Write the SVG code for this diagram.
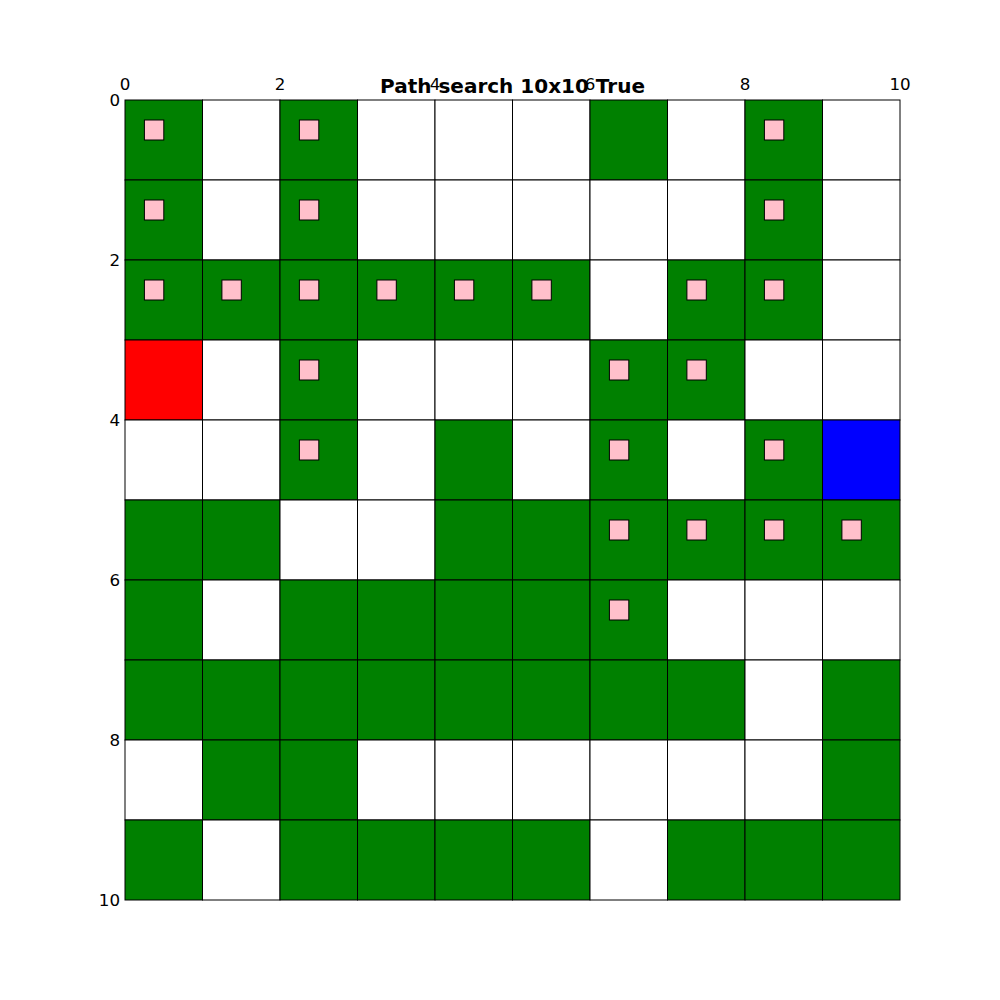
<svg xmlns="http://www.w3.org/2000/svg" width="1000" height="1000" viewBox="0 0 1000 1000">
<style>
.c{stroke:#000;stroke-width:1}
.g{fill:#008000}
.w{fill:#fff}
.r{fill:#f00}
.b{fill:#00f}
.p{fill:#ffc0cb;stroke:#000;stroke-width:1}
.t{font-family:"DejaVu Sans",sans-serif;font-size:16.7px;fill:#000}
.ti{font-family:"DejaVu Sans",sans-serif;font-size:20px;font-weight:bold;fill:#000}
</style>
<rect width="1000" height="1000" fill="#fff"/>
<g id="grid">
<g id="row0">
<rect class="c g" x="125" y="100" width="77.5" height="80"/>
<rect class="c w" x="202.5" y="100" width="77.5" height="80"/>
<rect class="c g" x="280" y="100" width="77.5" height="80"/>
<rect class="c w" x="357.5" y="100" width="77.5" height="80"/>
<rect class="c w" x="435" y="100" width="77.5" height="80"/>
<rect class="c w" x="512.5" y="100" width="77.5" height="80"/>
<rect class="c g" x="590" y="100" width="77.5" height="80"/>
<rect class="c w" x="667.5" y="100" width="77.5" height="80"/>
<rect class="c g" x="745" y="100" width="77.5" height="80"/>
<rect class="c w" x="822.5" y="100" width="77.5" height="80"/>
</g>
<g id="row1">
<rect class="c g" x="125" y="180" width="77.5" height="80"/>
<rect class="c w" x="202.5" y="180" width="77.5" height="80"/>
<rect class="c g" x="280" y="180" width="77.5" height="80"/>
<rect class="c w" x="357.5" y="180" width="77.5" height="80"/>
<rect class="c w" x="435" y="180" width="77.5" height="80"/>
<rect class="c w" x="512.5" y="180" width="77.5" height="80"/>
<rect class="c w" x="590" y="180" width="77.5" height="80"/>
<rect class="c w" x="667.5" y="180" width="77.5" height="80"/>
<rect class="c g" x="745" y="180" width="77.5" height="80"/>
<rect class="c w" x="822.5" y="180" width="77.5" height="80"/>
</g>
<g id="row2">
<rect class="c g" x="125" y="260" width="77.5" height="80"/>
<rect class="c g" x="202.5" y="260" width="77.5" height="80"/>
<rect class="c g" x="280" y="260" width="77.5" height="80"/>
<rect class="c g" x="357.5" y="260" width="77.5" height="80"/>
<rect class="c g" x="435" y="260" width="77.5" height="80"/>
<rect class="c g" x="512.5" y="260" width="77.5" height="80"/>
<rect class="c w" x="590" y="260" width="77.5" height="80"/>
<rect class="c g" x="667.5" y="260" width="77.5" height="80"/>
<rect class="c g" x="745" y="260" width="77.5" height="80"/>
<rect class="c w" x="822.5" y="260" width="77.5" height="80"/>
</g>
<g id="row3">
<rect class="c r" x="125" y="340" width="77.5" height="80"/>
<rect class="c w" x="202.5" y="340" width="77.5" height="80"/>
<rect class="c g" x="280" y="340" width="77.5" height="80"/>
<rect class="c w" x="357.5" y="340" width="77.5" height="80"/>
<rect class="c w" x="435" y="340" width="77.5" height="80"/>
<rect class="c w" x="512.5" y="340" width="77.5" height="80"/>
<rect class="c g" x="590" y="340" width="77.5" height="80"/>
<rect class="c g" x="667.5" y="340" width="77.5" height="80"/>
<rect class="c w" x="745" y="340" width="77.5" height="80"/>
<rect class="c w" x="822.5" y="340" width="77.5" height="80"/>
</g>
<g id="row4">
<rect class="c w" x="125" y="420" width="77.5" height="80"/>
<rect class="c w" x="202.5" y="420" width="77.5" height="80"/>
<rect class="c g" x="280" y="420" width="77.5" height="80"/>
<rect class="c w" x="357.5" y="420" width="77.5" height="80"/>
<rect class="c g" x="435" y="420" width="77.5" height="80"/>
<rect class="c w" x="512.5" y="420" width="77.5" height="80"/>
<rect class="c g" x="590" y="420" width="77.5" height="80"/>
<rect class="c w" x="667.5" y="420" width="77.5" height="80"/>
<rect class="c g" x="745" y="420" width="77.5" height="80"/>
<rect class="c b" x="822.5" y="420" width="77.5" height="80"/>
</g>
<g id="row5">
<rect class="c g" x="125" y="500" width="77.5" height="80"/>
<rect class="c g" x="202.5" y="500" width="77.5" height="80"/>
<rect class="c w" x="280" y="500" width="77.5" height="80"/>
<rect class="c w" x="357.5" y="500" width="77.5" height="80"/>
<rect class="c g" x="435" y="500" width="77.5" height="80"/>
<rect class="c g" x="512.5" y="500" width="77.5" height="80"/>
<rect class="c g" x="590" y="500" width="77.5" height="80"/>
<rect class="c g" x="667.5" y="500" width="77.5" height="80"/>
<rect class="c g" x="745" y="500" width="77.5" height="80"/>
<rect class="c g" x="822.5" y="500" width="77.5" height="80"/>
</g>
<g id="row6">
<rect class="c g" x="125" y="580" width="77.5" height="80"/>
<rect class="c w" x="202.5" y="580" width="77.5" height="80"/>
<rect class="c g" x="280" y="580" width="77.5" height="80"/>
<rect class="c g" x="357.5" y="580" width="77.5" height="80"/>
<rect class="c g" x="435" y="580" width="77.5" height="80"/>
<rect class="c g" x="512.5" y="580" width="77.5" height="80"/>
<rect class="c g" x="590" y="580" width="77.5" height="80"/>
<rect class="c w" x="667.5" y="580" width="77.5" height="80"/>
<rect class="c w" x="745" y="580" width="77.5" height="80"/>
<rect class="c w" x="822.5" y="580" width="77.5" height="80"/>
</g>
<g id="row7">
<rect class="c g" x="125" y="660" width="77.5" height="80"/>
<rect class="c g" x="202.5" y="660" width="77.5" height="80"/>
<rect class="c g" x="280" y="660" width="77.5" height="80"/>
<rect class="c g" x="357.5" y="660" width="77.5" height="80"/>
<rect class="c g" x="435" y="660" width="77.5" height="80"/>
<rect class="c g" x="512.5" y="660" width="77.5" height="80"/>
<rect class="c g" x="590" y="660" width="77.5" height="80"/>
<rect class="c g" x="667.5" y="660" width="77.5" height="80"/>
<rect class="c w" x="745" y="660" width="77.5" height="80"/>
<rect class="c g" x="822.5" y="660" width="77.5" height="80"/>
</g>
<g id="row8">
<rect class="c w" x="125" y="740" width="77.5" height="80"/>
<rect class="c g" x="202.5" y="740" width="77.5" height="80"/>
<rect class="c g" x="280" y="740" width="77.5" height="80"/>
<rect class="c w" x="357.5" y="740" width="77.5" height="80"/>
<rect class="c w" x="435" y="740" width="77.5" height="80"/>
<rect class="c w" x="512.5" y="740" width="77.5" height="80"/>
<rect class="c w" x="590" y="740" width="77.5" height="80"/>
<rect class="c w" x="667.5" y="740" width="77.5" height="80"/>
<rect class="c w" x="745" y="740" width="77.5" height="80"/>
<rect class="c g" x="822.5" y="740" width="77.5" height="80"/>
</g>
<g id="row9">
<rect class="c g" x="125" y="820" width="77.5" height="80"/>
<rect class="c w" x="202.5" y="820" width="77.5" height="80"/>
<rect class="c g" x="280" y="820" width="77.5" height="80"/>
<rect class="c g" x="357.5" y="820" width="77.5" height="80"/>
<rect class="c g" x="435" y="820" width="77.5" height="80"/>
<rect class="c g" x="512.5" y="820" width="77.5" height="80"/>
<rect class="c w" x="590" y="820" width="77.5" height="80"/>
<rect class="c g" x="667.5" y="820" width="77.5" height="80"/>
<rect class="c g" x="745" y="820" width="77.5" height="80"/>
<rect class="c g" x="822.5" y="820" width="77.5" height="80"/>
</g>
</g>
<g id="path">
<rect class="p" x="144.4" y="120" width="19.4" height="20"/>
<rect class="p" x="299.4" y="120" width="19.4" height="20"/>
<rect class="p" x="764.4" y="120" width="19.4" height="20"/>
<rect class="p" x="144.4" y="200" width="19.4" height="20"/>
<rect class="p" x="299.4" y="200" width="19.4" height="20"/>
<rect class="p" x="764.4" y="200" width="19.4" height="20"/>
<rect class="p" x="144.4" y="280" width="19.4" height="20"/>
<rect class="p" x="221.9" y="280" width="19.4" height="20"/>
<rect class="p" x="299.4" y="280" width="19.4" height="20"/>
<rect class="p" x="376.9" y="280" width="19.4" height="20"/>
<rect class="p" x="454.4" y="280" width="19.4" height="20"/>
<rect class="p" x="531.9" y="280" width="19.4" height="20"/>
<rect class="p" x="686.9" y="280" width="19.4" height="20"/>
<rect class="p" x="764.4" y="280" width="19.4" height="20"/>
<rect class="p" x="299.4" y="360" width="19.4" height="20"/>
<rect class="p" x="609.4" y="360" width="19.4" height="20"/>
<rect class="p" x="686.9" y="360" width="19.4" height="20"/>
<rect class="p" x="299.4" y="440" width="19.4" height="20"/>
<rect class="p" x="609.4" y="440" width="19.4" height="20"/>
<rect class="p" x="764.4" y="440" width="19.4" height="20"/>
<rect class="p" x="609.4" y="520" width="19.4" height="20"/>
<rect class="p" x="686.9" y="520" width="19.4" height="20"/>
<rect class="p" x="764.4" y="520" width="19.4" height="20"/>
<rect class="p" x="841.9" y="520" width="19.4" height="20"/>
<rect class="p" x="609.4" y="600" width="19.4" height="20"/>
</g>
<g id="xticks" class="t" text-anchor="middle">
<text x="125" y="90">0</text>
<text x="280" y="90">2</text>
<text x="435" y="90">4</text>
<text x="590" y="90">6</text>
<text x="745" y="90">8</text>
<text x="900" y="90">10</text>
</g>
<g id="yticks" class="t" text-anchor="end">
<text x="120" y="106">0</text>
<text x="120" y="266">2</text>
<text x="120" y="426">4</text>
<text x="120" y="586">6</text>
<text x="120" y="746">8</text>
<text x="120" y="906">10</text>
</g>
<text id="title" class="ti" x="512.5" y="93" text-anchor="middle">Path search 10x10 True</text>
</svg>
